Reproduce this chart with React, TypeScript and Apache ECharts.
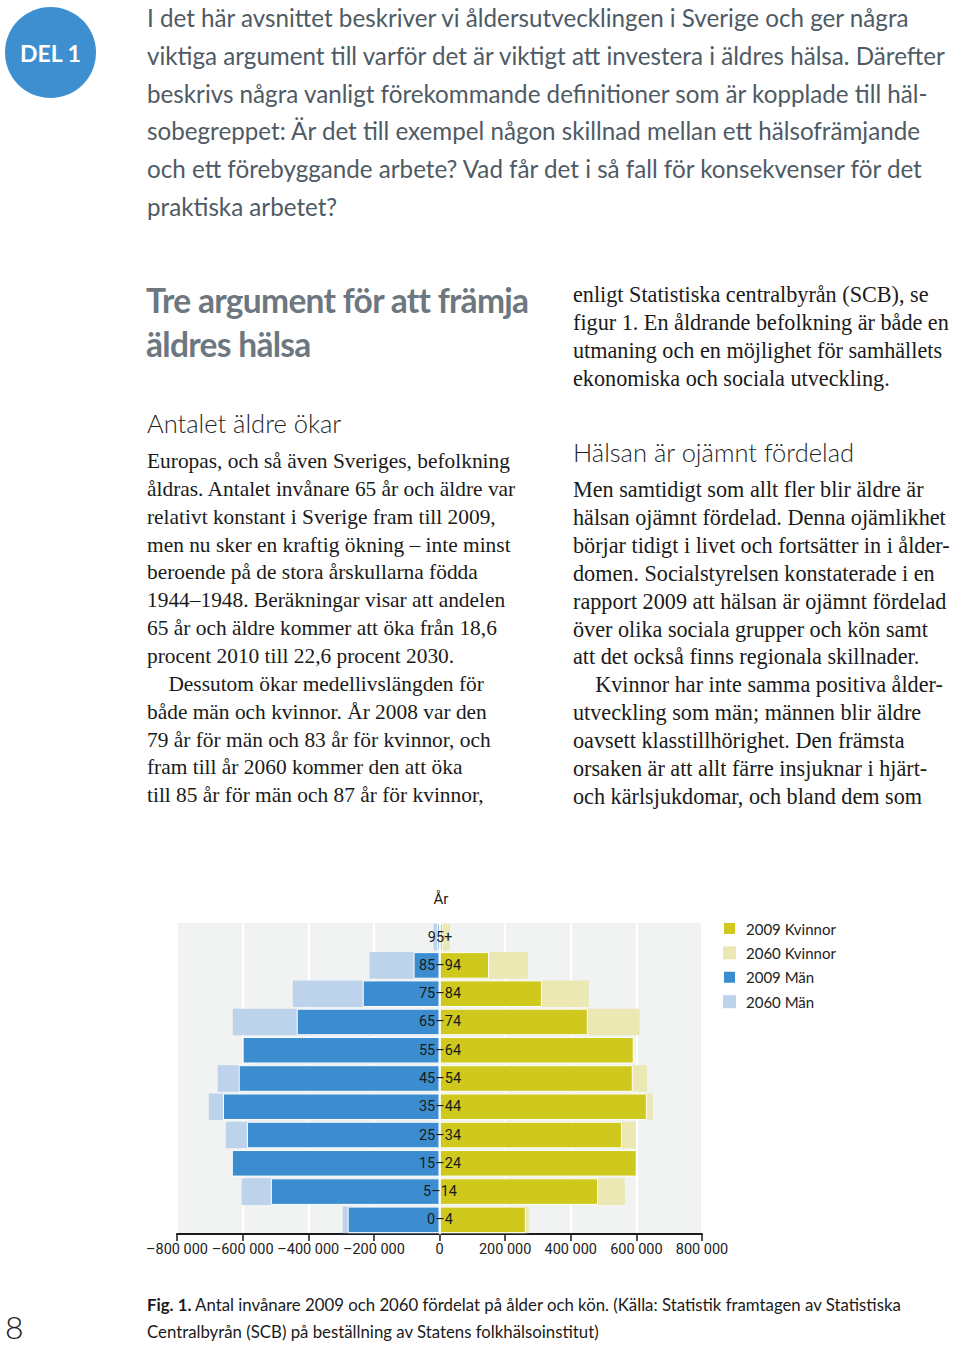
import React, { useEffect, useRef } from "react";
import * as echarts from "echarts";

const categories = ["0–4", "5–14", "15–24", "25–34", "35–44", "45–54", "55–64", "65–74", "75–84", "85–94", "95+"];
const men2009 = [280000, 514000, 633000, 587000, 660000, 612000, 600000, 435000, 234000, 79000, 8000];
const men2060 = [295000, 603000, 600000, 651000, 703000, 676000, 560000, 630000, 447000, 213000, 18000];
const women2009 = [263000, 483000, 601000, 556000, 632000, 589000, 592000, 452000, 312000, 151000, 10000];
const women2060 = [272000, 565000, 570000, 598000, 650000, 632000, 560000, 610000, 455000, 269000, 32000];
const seriesNames = ["2009 Kvinnor", "2060 Kvinnor", "2009 Män", "2060 Män"];

const introLines = [
  "I det här avsnittet beskriver vi åldersutvecklingen i Sverige och ger några",
  "viktiga argument till varför det är viktigt att investera i äldres hälsa. Därefter",
  "beskrivs några vanligt förekommande definitioner som är kopplade till häl-",
  "sobegreppet: Är det till exempel någon skillnad mellan ett hälsofrämjande",
  "och ett förebyggande arbete? Vad får det i så fall för konsekvenser för det",
  "praktiska arbetet?",
];
const leftLines = [
  "Europas, och så även Sveriges, befolkning",
  "åldras. Antalet invånare 65 år och äldre var",
  "relativt konstant i Sverige fram till 2009,",
  "men nu sker en kraftig ökning – inte minst",
  "beroende på de stora årskullarna födda",
  "1944–1948. Beräkningar visar att andelen",
  "65 år och äldre kommer att öka från 18,6",
  "procent 2010 till 22,6 procent 2030.",
  "\u2003Dessutom ökar medellivslängden för",
  "både män och kvinnor. År 2008 var den",
  "79 år för män och 83 år för kvinnor, och",
  "fram till år 2060 kommer den att öka",
  "till 85 år för män och 87 år för kvinnor,",
];
const rightTop = [
  "enligt Statistiska centralbyrån (SCB), se",
  "figur 1. En åldrande befolkning är både en",
  "utmaning och en möjlighet för samhällets",
  "ekonomiska och sociala utveckling.",
];
const rightLines = [
  "Men samtidigt som allt fler blir äldre är",
  "hälsan ojämnt fördelad. Denna ojämlikhet",
  "börjar tidigt i livet och fortsätter in i ålder-",
  "domen. Socialstyrelsen konstaterade i en",
  "rapport 2009 att hälsan är ojämnt fördelad",
  "över olika sociala grupper och kön samt",
  "att det också finns regionala skillnader.",
  "\u2003Kvinnor har inte samma positiva ålder-",
  "utveckling som män; männen blir äldre",
  "oavsett klasstillhörighet. Den främsta",
  "orsaken är att allt färre insjuknar i hjärt-",
  "och kärlsjukdomar, och bland dem som",
];

const C = {
  yellow: "#cfc91d",
  yellowLight: "#ebe8b4",
  blue: "#3c8dcf",
  blueLight: "#bcd3eb",
};

function Line({ x, y, text, style }: { x: number; y: number; text: string; style: React.CSSProperties }) {
  const lh = 30;
  return (
    <div style={{ position: "absolute", left: x, top: y - lh / 2, height: lh, lineHeight: lh + "px", whiteSpace: "pre", ...style }}>
      {text}
    </div>
  );
}

function Chart() {
  const ref = useRef<HTMLDivElement>(null);
  useEffect(() => {
    if (!ref.current) return;
    const chart = echarts.init(ref.current, null, { renderer: "svg" });
    const fmt = (v: number) => {
      if (v === 0) return "0";
      const a = Math.abs(v) / 1000;
      return (v < 0 ? "–" : "") + a + " 000";
    };
    chart.setOption({
      animation: false,
      textStyle: { fontFamily: "Roboto" },
      grid: {
        left: 177,
        top: 53,
        width: 525,
        height: 311,
        show: true,
        backgroundColor: "#f1f2f2",
        borderWidth: 0,
      },
      graphic: [
        {
          type: "text",
          x: 441,
          y: 29,
          style: { text: "År", fontSize: 15, fontFamily: "Roboto", fill: "#222", align: "center", verticalAlign: "middle" },
        },
      ],
      legend: {
        data: seriesNames,
        orient: "vertical",
        left: 722,
        top: 51,
        padding: 0,
        itemWidth: 13,
        itemHeight: 13,
        itemGap: 9.4,
        selectedMode: false,
        icon: "rect",
        textStyle: { fontSize: 15, color: "#222", fontFamily: "Lato", lineHeight: 14, padding: [0, 0, 0, 5] },
      },
      xAxis: {
        type: "value",
        min: -800000,
        max: 800000,
        interval: 200000,
        axisLine: { show: true, onZero: false, lineStyle: { color: "#1a1a1a", width: 2 } },
        axisTick: { show: true, length: 7, lineStyle: { color: "#1a1a1a", width: 1.5 } },
        axisLabel: { formatter: fmt, fontSize: 14.5, color: "#222", margin: 8, fontFamily: "Roboto" },
        splitLine: { show: true, lineStyle: { color: "#ffffff", width: 2 } },
      },
      yAxis: {
        type: "category",
        data: categories,
        z: 20,
        axisLine: { show: true, onZero: true, lineStyle: { color: "#ffffff", width: 1.5 } },
        axisTick: { show: false },
        axisLabel: { align: "center", margin: -263, fontSize: 14.5, color: "#1a1a1a", fontFamily: "Roboto" },
        splitLine: { show: false },
      },
      series: [
        {
          name: "2060 Män",
          type: "bar",
          data: men2060.map((v) => -v),
          itemStyle: { color: C.blueLight },
          barCategoryGap: "6%",
          barGap: "-100%",
        },
        {
          name: "2009 Män",
          type: "bar",
          data: men2009.map((v) => -v),
          itemStyle: { color: C.blue, borderColor: "#ffffff", borderWidth: 1 },
          barCategoryGap: "6%",
          barGap: "-100%",
        },
        {
          name: "2060 Kvinnor",
          type: "bar",
          data: women2060,
          itemStyle: { color: C.yellowLight },
          barCategoryGap: "6%",
          barGap: "-100%",
        },
        {
          name: "2009 Kvinnor",
          type: "bar",
          data: women2009,
          itemStyle: { color: C.yellow, borderColor: "#ffffff", borderWidth: 1 },
          barCategoryGap: "6%",
          barGap: "-100%",
        },
      ],
    });
    return () => chart.dispose();
  }, []);
  return <div ref={ref} style={{ position: "absolute", left: 0, top: 870, width: 960, height: 410 }} />;
}

export default function App() {
  const intro: React.CSSProperties = { fontFamily: "Lato", fontSize: 24.2, color: "#4e5a64" };
  const serifL: React.CSSProperties = { fontFamily: "Liberation Serif", fontSize: 21.4, color: "#1a1a1a" };
  const serifR: React.CSSProperties = { fontFamily: "Liberation Serif", fontSize: 22.2, color: "#1a1a1a" };
  const sub: React.CSSProperties = { fontFamily: "Lato", fontWeight: 300, fontSize: 25.5, color: "#1f1f1f" };
  const head: React.CSSProperties = { fontFamily: "Lato", fontWeight: 700, fontSize: 33.5, color: "#6d7780", letterSpacing: -0.7 };
  return (
    <div style={{ position: "absolute", left: 0, top: 0, width: 960, height: 1346, background: "#fff", overflow: "hidden" }}>
      <div
        style={{
          position: "absolute",
          left: 5,
          top: 7,
          width: 91,
          height: 91,
          borderRadius: "50%",
          background: "#3d8fd0",
          color: "#fff",
          fontFamily: "Lato",
          fontWeight: 700,
          fontSize: 23,
          display: "flex",
          alignItems: "center",
          justifyContent: "center",
        }}
      >
        DEL 1
      </div>
      {introLines.map((t, i) => (
        <Line key={"i" + i} x={147} y={18 + i * 37.8} text={t} style={intro} />
      ))}
      <Line x={146} y={300} text="Tre argument för att främja" style={head} />
      <Line x={146} y={344} text="äldres hälsa" style={head} />
      <Line x={147} y={423} text="Antalet äldre ökar" style={sub} />
      {leftLines.map((t, i) => (
        <Line key={"l" + i} x={147} y={461 + i * 27.85} text={t} style={serifL} />
      ))}
      {rightTop.map((t, i) => (
        <Line key={"rt" + i} x={573} y={295 + i * 28} text={t} style={serifR} />
      ))}
      <Line x={573} y={452} text="Hälsan är ojämnt fördelad" style={sub} />
      {rightLines.map((t, i) => (
        <Line key={"r" + i} x={573} y={490 + i * 27.9} text={t} style={serifR} />
      ))}
      <Chart />
      <Line x={5} y={1327} text="8" style={{ fontFamily: "Lato", fontWeight: 300, fontSize: 32, color: "#1a1a1a" }} />
      <div style={{ position: "absolute", left: 147, top: 1291, fontFamily: "Lato", fontSize: 16.8, color: "#1a1a1a", lineHeight: "27px", width: 800, whiteSpace: "pre" }}>
        <span style={{ fontWeight: 700 }}>Fig. 1.</span>
        {" Antal invånare 2009 och 2060 fördelat på ålder och kön. (Källa: Statistik framtagen av Statistiska"}
        <br />
        {"Centralbyrån (SCB) på beställning av Statens folkhälsoinstitut)"}
      </div>
    </div>
  );
}
